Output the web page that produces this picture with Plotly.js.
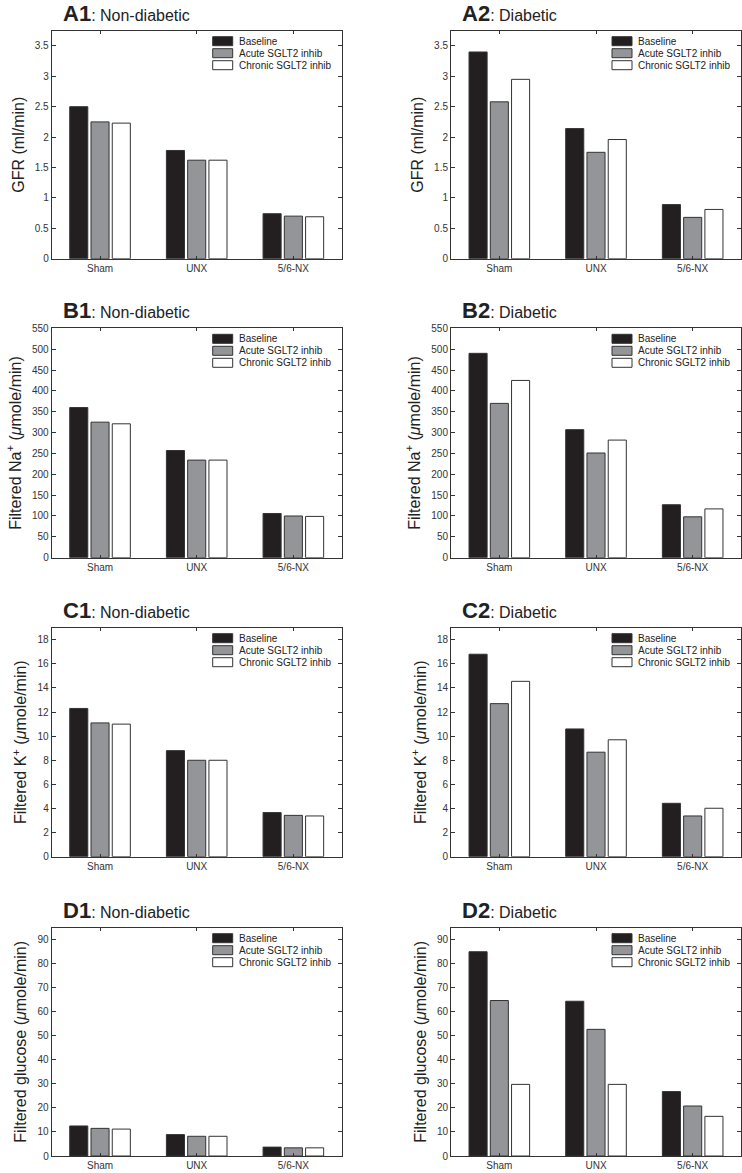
<!DOCTYPE html>
<html>
<head>
<meta charset="utf-8">
<script src="https://cdn.plot.ly/plotly-3.0.1.min.js"></script>
<style>html,body{margin:0;padding:0;background:#fff;}#chart{width:742px;height:1173px;}</style>
</head>
<body>
<div id="chart"></div>
<script>
// ---------------- DATA ----------------
const categories = ['Sham', 'UNX', '5/6-NX'];
const seriesNames = ['Baseline', 'Acute SGLT2 inhib', 'Chronic SGLT2 inhib'];

// each panel: [Baseline, Acute, Chronic] values for [Sham, UNX, 5/6-NX]
const gfrNonDiabetic      = [[2.50, 1.78, 0.74], [2.25, 1.62, 0.70], [2.23, 1.62, 0.69]];
const gfrDiabetic         = [[3.40, 2.14, 0.89], [2.58, 1.75, 0.68], [2.95, 1.96, 0.81]];
const naNonDiabetic       = [[360, 257, 106], [325, 234, 100], [321, 234, 99]];
const naDiabetic          = [[490, 307, 127], [370, 251, 98], [425, 282, 117]];
const kNonDiabetic        = [[12.3, 8.8, 3.66], [11.1, 8.0, 3.43], [11.0, 8.0, 3.38]];
const kDiabetic           = [[16.8, 10.6, 4.43], [12.7, 8.67, 3.38], [14.55, 9.7, 4.02]];
const glucoseNonDiabetic  = [[12.5, 8.9, 3.7], [11.5, 8.2, 3.4], [11.2, 8.2, 3.4]];
const glucoseDiabetic     = [[85, 64.4, 26.8], [64.7, 52.7, 20.8], [29.8, 29.8, 16.5]];

const panelLabels = ['A1', 'A2', 'B1', 'B2', 'C1', 'C2', 'D1', 'D2'];
const panelSubtitles = ['Non-diabetic', 'Diabetic', 'Non-diabetic', 'Diabetic', 'Non-diabetic', 'Diabetic', 'Non-diabetic', 'Diabetic'];
const yTitles = [
  'GFR (ml/min)', 'GFR (ml/min)',
  'Filtered Na<sup>+</sup> (<i>μ</i>mole/min)', 'Filtered Na<sup>+</sup> (<i>μ</i>mole/min)',
  'Filtered K<sup>+</sup> (<i>μ</i>mole/min)', 'Filtered K<sup>+</sup> (<i>μ</i>mole/min)',
  'Filtered glucose (<i>μ</i>mole/min)', 'Filtered glucose (<i>μ</i>mole/min)'
];
const yMax = [3.75, 3.75, 550, 550, 19, 19, 95, 95];
const yStep = [0.5, 0.5, 50, 50, 2, 2, 10, 10];
const panelData = [gfrNonDiabetic, gfrDiabetic, naNonDiabetic, naDiabetic, kNonDiabetic, kDiabetic, glucoseNonDiabetic, glucoseDiabetic];

// ---------------- STYLE ----------------
const W = 742, H = 1173;
const FONT = 'Liberation Sans, Arial, Helvetica, sans-serif';
const fills = ['#231f20', '#939598', '#ffffff'];
const edge = '#333333';
const colX = [[51.7, 341.7], [451, 741]];
const rowY = [[30.7, 258.7], [328.3, 557.7], [627.7, 856.7], [927.7, 1156]];

const traces = [];
const shapes = [];
const annotations = [];
const layout = {
  width: W, height: H,
  margin: {l: 0, r: 0, t: 0, b: 0},
  paper_bgcolor: '#fff', plot_bgcolor: '#fff',
  showlegend: false,
  barmode: 'group', bargap: 0.34, bargroupgap: 0.15,
  font: {family: FONT, color: '#222', size: 10}
};

panelData.forEach((data, i) => {
  const n = i + 1;
  const col = i % 2, row = Math.floor(i / 2);
  const xa = n === 1 ? 'x' : 'x' + n;
  const ya = n === 1 ? 'y' : 'y' + n;
  const xk = n === 1 ? 'xaxis' : 'xaxis' + n;
  const yk = n === 1 ? 'yaxis' : 'yaxis' + n;

  data.forEach((vals, s) => {
    traces.push({
      type: 'bar', x: categories, y: vals, name: seriesNames[s],
      xaxis: xa, yaxis: ya,
      marker: {color: fills[s], line: {color: edge, width: 1}},
      hoverinfo: 'x+y+name'
    });
  });

  layout[xk] = {
    domain: [colX[col][0] / W, colX[col][1] / W],
    anchor: ya, type: 'category', range: [-0.5, 2.5],
    showline: true, mirror: 'ticks', linecolor: edge, linewidth: 1,
    ticks: 'inside', ticklen: 3, tickwidth: 1, tickcolor: edge,
    showgrid: false, zeroline: false,
    tickfont: {size: 10, color: '#333', family: FONT}
  };
  layout[yk] = {
    domain: [1 - rowY[row][1] / H, 1 - rowY[row][0] / H],
    anchor: xa, range: [0, yMax[i]], tick0: 0, dtick: yStep[i],
    showline: true, mirror: 'ticks', linecolor: edge, linewidth: 1,
    ticks: 'inside', ticklen: 4, tickwidth: 1, tickcolor: edge,
    showgrid: false, zeroline: false,
    tickfont: {size: 10, color: '#333', family: FONT},
    title: {text: yTitles[i], font: {size: 16, color: '#222', family: FONT}, standoff: 6}
  };

  // panel title
  annotations.push({
    xref: xa + ' domain', yref: ya + ' domain', x: 0, y: 1,
    xanchor: 'left', yanchor: 'bottom', xshift: 9, yshift: 3,
    showarrow: false,
    text: '<span style="font-size:22px"><b>' + panelLabels[i] + '</b></span>: ' + panelSubtitles[i],
    font: {size: 16, color: '#222', family: FONT}
  });

  // legend (swatches + labels)
  seriesNames.forEach((name, s) => {
    const top = -6 - 12 * s;
    shapes.push({
      type: 'rect', xref: xa + ' domain', yref: ya + ' domain',
      xsizemode: 'pixel', ysizemode: 'pixel', xanchor: 0, yanchor: 1,
      x0: 161, x1: 181, y0: top, y1: top - 9,
      fillcolor: fills[s], line: {color: edge, width: 1}
    });
    annotations.push({
      xref: xa + ' domain', yref: ya + ' domain', x: 0, y: 1,
      xanchor: 'left', yanchor: 'middle', xshift: 185, yshift: top - 4.5,
      showarrow: false, text: name,
      font: {size: 10, color: '#222', family: FONT}
    });
  });
});

layout.shapes = shapes;
layout.annotations = annotations;

Plotly.newPlot('chart', traces, layout, {displayModeBar: false, staticPlot: true});
</script>
</body>
</html>
